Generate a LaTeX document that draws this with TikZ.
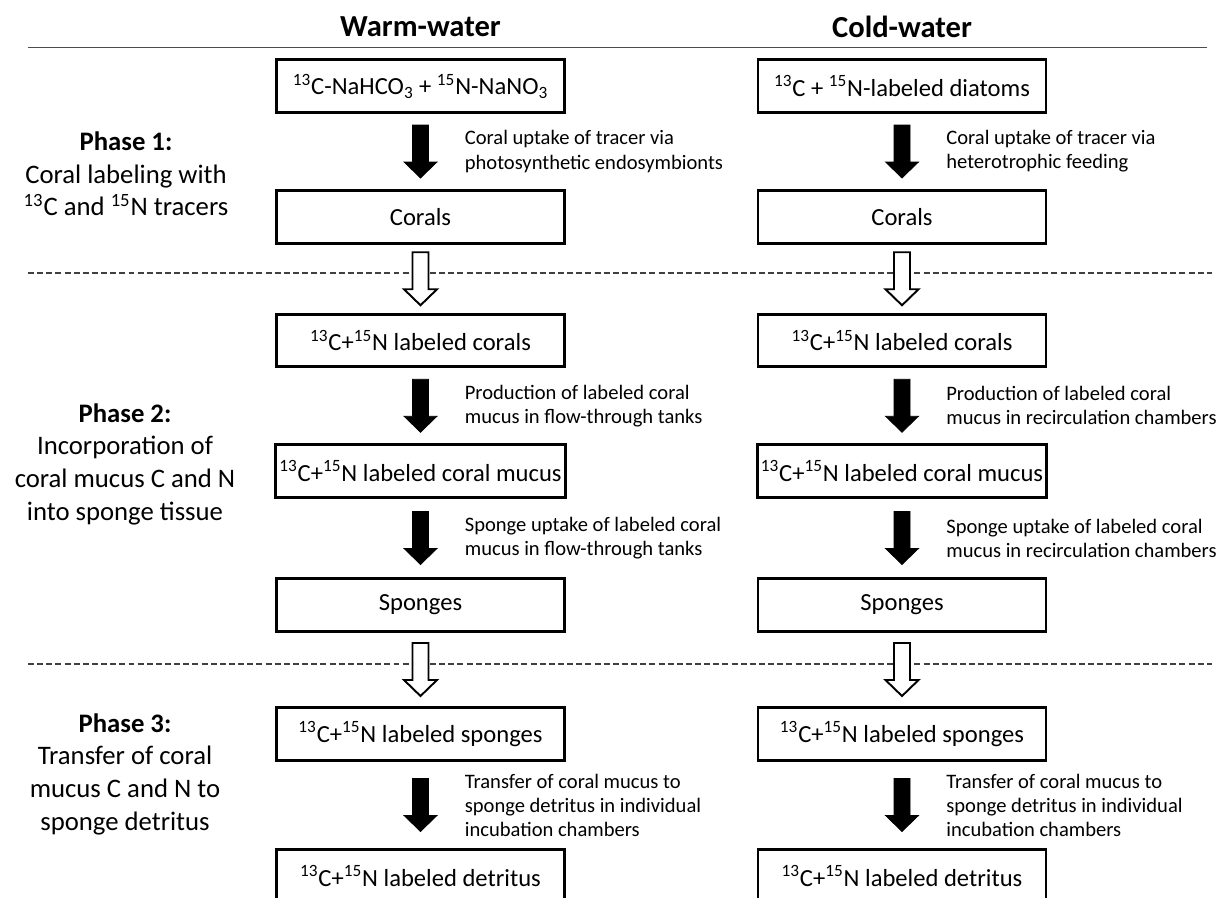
\documentclass[tikz,border=0pt]{standalone}
\usepackage{fontspec}
\setmainfont{Carlito}
\usetikzlibrary{calc,positioning}
\newcommand{\iso}[1]{\textsuperscript{#1}}
\newcommand{\blockarr}[3]{%
  \coordinate (mid) at ($(#2.south)!0.5!(#3.north)$);
  \draw[#1] ($(mid)+(-0.16,0.53)$) -- ($(mid)+(-0.16,-0.21)$) -- ($(mid)+(-0.33,-0.21)$) -- ($(mid)+(0,-0.53)$)
    -- ($(mid)+(0.33,-0.21)$) -- ($(mid)+(0.16,-0.21)$) -- ($(mid)+(0.16,0.53)$) -- cycle;}

\begin{document}
\begin{tikzpicture}
\tikzstyle{bx}=[draw,line width=1.6pt,minimum width=5.76cm,minimum height=1.05cm,inner xsep=2pt,font=\fontsize{14}{16}\selectfont]
\tikzstyle{lbl}=[anchor=west,align=left,inner sep=0pt,font=\fontsize{11.7}{13.7}\selectfont]
\tikzstyle{hd}=[font=\fontsize{17.4}{20}\selectfont\bfseries]
\tikzstyle{ph}=[align=center,font=\fontsize{15.2}{18.6}\selectfont]
\tikzstyle{fullarr}=[fill=black,draw=black,line width=0.4pt]
\tikzstyle{openarr}=[fill=white,draw=black,line width=1.1pt]
\tikzstyle{sep}=[black!75,line width=0.6pt,dash pattern=on 3.4pt off 1.8pt]
\clip (0,0) rectangle (24.42,-17.94);
\node[hd] (hw) at (8.41,-0.54) {Warm-water}; \node[hd] (hc) at (18.04,-0.54) {Cold-water};
\draw[black!70,line width=1.1pt] (0.56,-0.95) -- (24.14,-0.95);
\draw[sep] (0.56,-5.46) -- (24.24,-5.46);
\draw[sep] (0.56,-13.28) -- (24.24,-13.28);
% phases
\node[ph] (p1) at (2.52,-3.48) {\textbf{Phase 1:}\\Coral labeling with\\\iso{13}C and \iso{15}N tracers};
\node[ph] (p2) at (2.5,-9.28) {\textbf{Phase 2:}\\Incorporation of\\coral mucus C and N\\into sponge tissue};
\node[ph] (p3) at (2.5,-15.48) {\textbf{Phase 3:}\\Transfer of coral\\mucus C and N to\\sponge detritus};
% warm-water
\node[bx] (w1) at (8.41,-1.72) {\iso{13}C-NaHCO\textsubscript{3} + \iso{15}N-NaNO\textsubscript{3}};
\node[bx] (w2) at (8.41,-4.34) {Corals};
\node[bx] (w3) at (8.41,-6.81) {\iso{13}C+\iso{15}N labeled corals};
\node[bx] (w4) at (8.41,-9.42) {\iso{13}C+\iso{15}N labeled coral mucus};
\node[bx] (w5) at (8.41,-12.1) {Sponges};
\node[bx] (w6) at (8.41,-14.68) {\iso{13}C+\iso{15}N labeled sponges};
\node[bx] (w7) at (8.41,-17.52) {\iso{13}C+\iso{15}N labeled detritus};
\blockarr{fullarr}{w1}{w2} \blockarr{openarr}{w2}{w3} \blockarr{fullarr}{w3}{w4}
\blockarr{fullarr}{w4}{w5} \blockarr{openarr}{w5}{w6} \blockarr{fullarr}{w6}{w7}
\node[lbl] (tw1) at ($(w1.south)!0.5!(w2.north)+(0.88,0)$) {Coral uptake of tracer via\\photosynthetic endosymbionts};
\node[lbl] (tw3) at ($(w3.south)!0.5!(w4.north)+(0.88,0)$) {Production of labeled coral\\mucus in flow-through tanks};
\node[lbl] (tw4) at ($(w4.south)!0.5!(w5.north)+(0.88,0)$) {Sponge uptake of labeled coral\\mucus in flow-through tanks};
\node[lbl] (tw6) at ($(w6.south)!0.5!(w7.north)+(0.88,0)$) {Transfer of coral mucus to\\sponge detritus in individual\\incubation chambers};
% cold-water
\node[bx] (c1) at (18.04,-1.72) {\iso{13}C + \iso{15}N-labeled diatoms};
\node[bx] (c2) at (18.04,-4.34) {Corals};
\node[bx] (c3) at (18.04,-6.81) {\iso{13}C+\iso{15}N labeled corals};
\node[bx] (c4) at (18.04,-9.42) {\iso{13}C+\iso{15}N labeled coral mucus};
\node[bx] (c5) at (18.04,-12.1) {Sponges};
\node[bx] (c6) at (18.04,-14.68) {\iso{13}C+\iso{15}N labeled sponges};
\node[bx] (c7) at (18.04,-17.52) {\iso{13}C+\iso{15}N labeled detritus};
\blockarr{fullarr}{c1}{c2} \blockarr{openarr}{c2}{c3} \blockarr{fullarr}{c3}{c4}
\blockarr{fullarr}{c4}{c5} \blockarr{openarr}{c5}{c6} \blockarr{fullarr}{c6}{c7}
\node[lbl] (tc1) at ($(c1.south)!0.5!(c2.north)+(0.88,0)$) {Coral uptake of tracer via\\heterotrophic feeding};
\node[lbl] (tc3) at ($(c3.south)!0.5!(c4.north)+(0.88,0)$) {Production of labeled coral\\mucus in recirculation chambers};
\node[lbl] (tc4) at ($(c4.south)!0.5!(c5.north)+(0.88,0)$) {Sponge uptake of labeled coral\\mucus in recirculation chambers};
\node[lbl] (tc6) at ($(c6.south)!0.5!(c7.north)+(0.88,0)$) {Transfer of coral mucus to\\sponge detritus in individual\\incubation chambers};
\end{tikzpicture}
\end{document}
